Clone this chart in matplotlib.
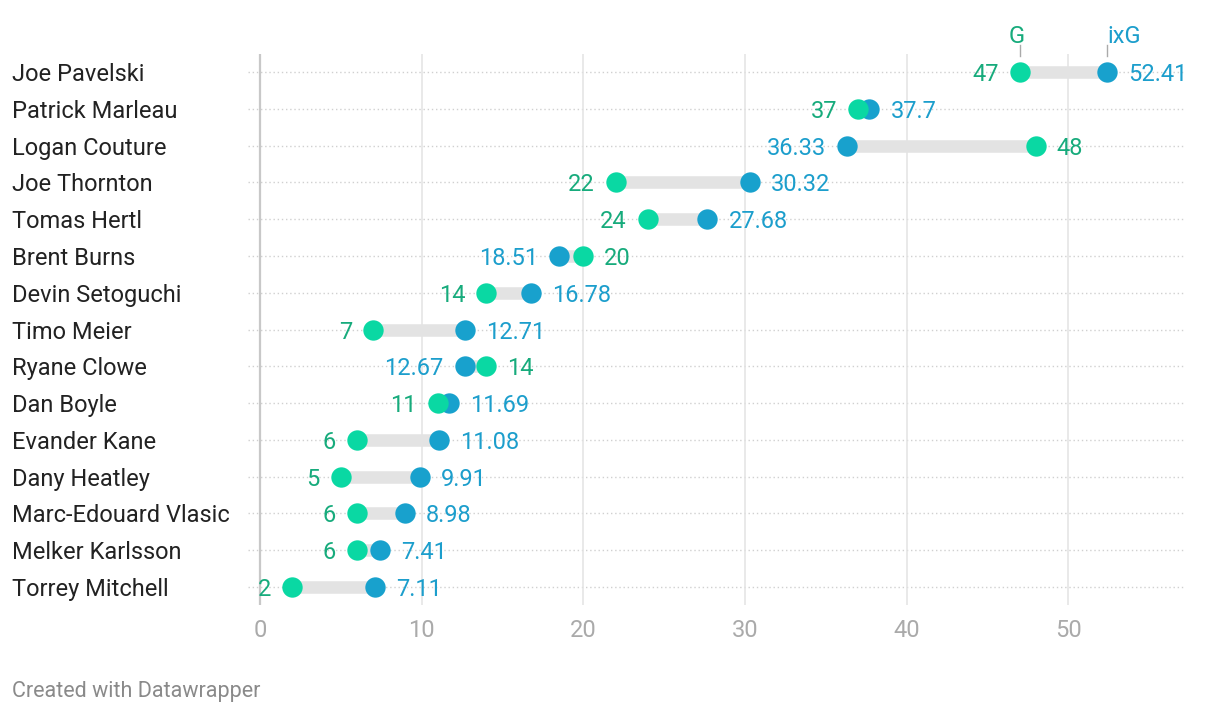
import matplotlib.pyplot as plt
import matplotlib.transforms as mtransforms

# Data
players = ["Joe Pavelski", "Patrick Marleau", "Logan Couture", "Joe Thornton",
           "Tomas Hertl", "Brent Burns", "Devin Setoguchi", "Timo Meier",
           "Ryane Clowe", "Dan Boyle", "Evander Kane", "Dany Heatley",
           "Marc-Edouard Vlasic", "Melker Karlsson", "Torrey Mitchell"]
goals = [47, 37, 48, 22, 24, 20, 14, 7, 14, 11, 6, 5, 6, 6, 2]
ixg = [52.41, 37.7, 36.33, 30.32, 27.68, 18.51, 16.78, 12.71, 12.67,
       11.69, 11.08, 9.91, 8.98, 7.41, 7.11]
g_labels = ["47", "37", "48", "22", "24", "20", "14", "7", "14", "11",
            "6", "5", "6", "6", "2"]
ixg_labels = ["52.41", "37.7", "36.33", "30.32", "27.68", "18.51", "16.78",
              "12.71", "12.67", "11.69", "11.08", "9.91", "8.98", "7.41", "7.11"]
xticks = [0, 10, 20, 30, 40, 50]

plt.rcParams['font.family'] = ['Roboto', 'DejaVu Sans']

G_DOT = "#0ad8a3"
G_TXT = "#17ab7c"
X_DOT = "#18a1cd"
X_TXT = "#1c9ecc"
FS = 17

fig = plt.figure(figsize=(12.2, 7.14), dpi=100)
ax = fig.add_axes([0.2033, 0.152, 0.971 - 0.2033, 0.925 - 0.152])

rows = list(range(len(players)))

# grid
for t in xticks:
    ax.axvline(t, color="#c8c8c8" if t == 0 else "#e3e3e3",
               lw=1.6 if t == 0 else 1.1, zorder=0.5)
for r in rows:
    ax.axhline(r, color="#d0d0d0", lw=1, ls=(0, (1, 2)), zorder=0.4)

# range bars
for r in rows:
    ax.plot([goals[r], ixg[r]], [r, r], color="#e3e3e3", lw=9,
            solid_capstyle="butt", zorder=1)

ax.scatter(ixg, rows, s=215, color=X_DOT, zorder=3, linewidths=0)
ax.scatter(goals, rows, s=215, color=G_DOT, zorder=4, linewidths=0)

# value labels
off = 1.3
for r in rows:
    lo_left = goals[r] <= ixg[r]
    ga = "right" if lo_left else "left"
    xa = "left" if lo_left else "right"
    gx = goals[r] - off if lo_left else goals[r] + off
    xx = ixg[r] + off if lo_left else ixg[r] - off
    ax.text(gx, r, g_labels[r], color=G_TXT, fontsize=FS, ha=ga,
            va="center_baseline", zorder=5)
    ax.text(xx, r, ixg_labels[r], color=X_TXT, fontsize=FS, ha=xa,
            va="center_baseline", zorder=5)

# legend labels above first row
ax.plot([goals[0], goals[0]], [-0.72, -0.42], color="#aaaaaa", lw=1,
        clip_on=False)
ax.plot([ixg[0], ixg[0]], [-0.72, -0.42], color="#aaaaaa", lw=1,
        clip_on=False)
ax.text(goals[0] + 0.3, -1.02, "G", color=G_TXT, fontsize=FS, ha="right",
        va="center_baseline")
ax.text(ixg[0], -1.02, "ixG", color=X_TXT, fontsize=FS, ha="left",
        va="center_baseline")

# player names
trans = mtransforms.blended_transform_factory(fig.transFigure, ax.transData)
for r in rows:
    ax.text(0.0098, r, players[r], transform=trans, fontsize=FS,
            color="#222222", ha="left", va="center_baseline")

ax.set_xlim(-0.74, 57.2)
ax.set_ylim(14.5, -0.5)
ax.set_yticks([])
ax.set_xticks(xticks)
ax.set_xticklabels([str(t) for t in xticks])
ax.tick_params(axis="x", length=0, pad=10, labelsize=FS, labelcolor="#aaaaaa")
for s in ax.spines.values():
    s.set_visible(False)

fig.text(0.0098, 0.032, "Created with Datawrapper", fontsize=15.5,
         color="#8a8a8a", ha="left", va="center")

fig.savefig("out.png", dpi=100)
